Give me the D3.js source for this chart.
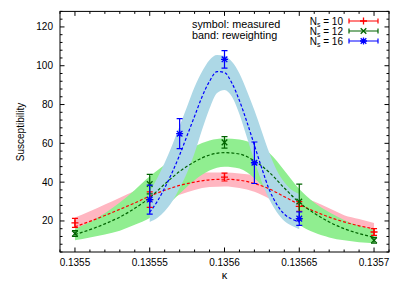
<!DOCTYPE html>
<html><head><meta charset="utf-8">
<script src="https://cdn.jsdelivr.net/npm/d3@7"></script>
<style>body{margin:0;background:#fff}svg{display:block}text{font-family:"Liberation Sans",Arial,sans-serif}</style>
</head><body>
<script>
// ---- data ----
const kappaGrid = [0.1355,0.13551,0.13552,0.13553,0.13554,0.13555,0.13556,0.13557,0.13558,0.13559,0.1356,0.13561,0.13562,0.13563,0.13564,0.13565,0.13566,0.13567,0.13568,0.13569,0.1357];
const redCurve = [17,19.8,22.8,26,29.3,32.8,35.8,38.3,40,41.2,41.5,41,39.3,36.5,32.5,28.5,25,22,19.5,17.5,16];
const redLo    = [12.5,15,17.5,20.5,23.5,27,30.5,33.5,36,37.5,37.8,37,35,31.5,27.5,24,21,18.5,16.5,15,14];
const redHi    = [21.8,25,28.5,32,35.5,38.5,41,43,44.3,45,45,44.5,43.5,41.5,38,33,30,26.5,23,21,19];
const greenCurve = [13,15.5,18.5,22,26.5,32,39,45.5,50.5,54,55.2,54.5,51,45,37,29.5,24,19.5,16,13.5,11.5];
const greenLo    = [10,11.5,13,15,18,21.5,27,34,41,46,48,47,42,34,25.5,18,14,11.5,10,9,8.5];
const greenHi    = [16,19.5,24,29.5,36,43,49,54.5,58.5,61.5,62.5,62,59.5,55,46,36.5,29.5,24.5,20.5,17.5,15.5];
const kappaBlue = [0.13555,0.135555,0.13556,0.135565,0.13557,0.135575,0.13558,0.135585,0.13559,0.135595,0.1356,0.135605,0.13561,0.135615,0.13562,0.135625,0.13563,0.135635,0.13564,0.135645,0.13565];
const blueCurve = [24.5,30,37,45,54,64,74,84,92,97,96.5,91,82,71,59,47,36,28.5,23.5,21,19.5];
const blueLo    = [19.5,21.5,25,30,37,45,55,67,78,86,87.5,84,75,63,51,40,31,24.5,20,17.5,15.7];
const blueHi    = [35,42,50,59,69,79,89,97,103,105.5,105,102,96,87,77,66,55,46,40,36,34];

const kappaMeas  = [0.1355,0.13555,0.1356,0.13565,0.1357];
const redMeas    = [19,31,42.6,27.5,14.3];
const redErr     = [2.3,4,2,2.5,1.7];
const greenMeas  = [13.5,39,60.5,30,10];
const greenErr   = [1.5,5,3,9,1.5];
const kappaMeasBlue = [0.13555,0.13557,0.1356,0.13562,0.13565];
const blueMeas   = [31,65,103.3,50,21.2];
const blueErr    = [7.5,7.7,4.5,10.7,3.5];

const xTicks = [0.1355,0.13555,0.1356,0.13565,0.1357];
const xTickLabels = ["0.1355","0.13555","0.1356","0.13565","0.1357"];
const yTicks = [20,40,60,80,100,120];
const legendLabels = ["10","12","16"];
const annotation = ["symbol: measured","band: reweighting"];

// ---- layout ----
const W=404,H=284;
const L=60,R=389,T=11.4,B=252;
const x=d3.scaleLinear().domain([0.13549,0.13571]).range([L,R]);
const y=d3.scaleLinear().domain([4,128]).range([B,T]);

const svg=d3.select("body").append("svg").attr("width",W).attr("height",H);
svg.append("rect").attr("width",W).attr("height",H).attr("fill","#fff");
svg.append("clipPath").attr("id","clip").append("rect").attr("x",L).attr("y",T).attr("width",R-L).attr("height",B-T);
const g=svg.append("g").attr("clip-path","url(#clip)");

const series=[
 {k:kappaGrid,c:redCurve,lo:redLo,hi:redHi,band:"#ffb6c1",col:"#ff0000",mk:kappaMeas,m:redMeas,e:redErr,sym:"plus",lab:legendLabels[0]},
 {k:kappaGrid,c:greenCurve,lo:greenLo,hi:greenHi,band:"#90ee90",col:"#006400",mk:kappaMeas,m:greenMeas,e:greenErr,sym:"cross",lab:legendLabels[1]},
 {k:kappaBlue,c:blueCurve,lo:blueLo,hi:blueHi,band:"#add8e6",col:"#0000ff",mk:kappaMeasBlue,m:blueMeas,e:blueErr,sym:"star",lab:legendLabels[2]}
];

const area=d3.area().x(d=>x(d.k)).y0(d=>y(d.lo)).y1(d=>y(d.hi)).curve(d3.curveMonotoneX);
const line=d3.line().x(d=>x(d.k)).y(d=>y(d.v)).curve(d3.curveMonotoneX);
series.forEach(s=>{
  const pts=s.k.map((k,i)=>({k,lo:s.lo[i],hi:s.hi[i],v:s.c[i]}));
  g.append("path").datum(pts).attr("d",area).attr("fill",s.band);
});
series.forEach(s=>{
  const pts=s.k.map((k,i)=>({k,v:s.c[i]}));
  g.append("path").datum(pts).attr("d",line).attr("fill","none").attr("stroke",s.col).attr("stroke-width",1.2).attr("stroke-dasharray","3,2");
});

function marker(sel,sym,cx,cy,col,r){
  const p=d3.path();
  if(sym==="plus"||sym==="star"){p.moveTo(cx-r,cy);p.lineTo(cx+r,cy);p.moveTo(cx,cy-r);p.lineTo(cx,cy+r);}
  if(sym==="cross"||sym==="star"){const q=r*0.8;p.moveTo(cx-q,cy-q);p.lineTo(cx+q,cy+q);p.moveTo(cx-q,cy+q);p.lineTo(cx+q,cy-q);}
  sel.append("path").attr("d",p.toString()).attr("stroke",col).attr("stroke-width",1.3).attr("fill","none");
}
const cap=3;
series.forEach(s=>{
  s.mk.forEach((k,i)=>{
    const cx=x(k),y0=y(s.m[i]-s.e[i]),y1=y(s.m[i]+s.e[i]);
    const p=d3.path();
    p.moveTo(cx,y0);p.lineTo(cx,y1);
    p.moveTo(cx-cap,y0);p.lineTo(cx+cap,y0);
    p.moveTo(cx-cap,y1);p.lineTo(cx+cap,y1);
    svg.append("path").attr("d",p.toString()).attr("stroke",s.col).attr("stroke-width",1.2).attr("fill","none");
    marker(svg,s.sym,cx,y(s.m[i]),s.col,3.5);
  });
});

// ---- frame and ticks ----
const ax=svg.append("g").attr("stroke","#000").attr("stroke-width",1).attr("fill","none");
ax.append("rect").attr("x",L).attr("y",T).attr("width",R-L).attr("height",B-T);
const xMinor=d3.range(0,23).map(i=>0.13549+i*0.00001);
xMinor.forEach(v=>{
  const major=xTicks.some(t=>Math.abs(t-v)<1e-9);
  const len=major?4.5:2.5;
  ax.append("line").attr("x1",x(v)).attr("x2",x(v)).attr("y1",B).attr("y2",B-len);
  ax.append("line").attr("x1",x(v)).attr("x2",x(v)).attr("y1",T).attr("y2",T+len);
});
const yMinor=d3.range(4,129,4);
yMinor.forEach(v=>{
  const major=yTicks.includes(v);
  const len=major?4.5:2.5;
  ax.append("line").attr("x1",L).attr("x2",L+len).attr("y1",y(v)).attr("y2",y(v));
  ax.append("line").attr("x1",R).attr("x2",R-len).attr("y1",y(v)).attr("y2",y(v));
});
const tx=svg.append("g").attr("font-size",10).attr("fill","#000");
xTicks.forEach((v,i)=>tx.append("text").attr("x",x(v)).attr("y",266).attr("text-anchor","middle").text(xTickLabels[i]));
yTicks.forEach(v=>tx.append("text").attr("x",53).attr("y",y(v)+3.5).attr("text-anchor","end").text(v));
tx.append("text").attr("transform","translate(24,132) rotate(-90)").attr("text-anchor","middle").text("Susceptibility");
tx.append("text").attr("x",x(0.1356)).attr("y",279).attr("text-anchor","middle").attr("font-size",11).text("κ");
annotation.forEach((t,i)=>tx.append("text").attr("x",192).attr("y",28+i*11).attr("font-size",10.8).text(t));

// ---- legend ----
series.forEach((s,i)=>{
  const ly=21+i*10;
  const t=tx.append("text").attr("x",343).attr("y",ly+3.5).attr("text-anchor","end");
  t.append("tspan").text("N");
  t.append("tspan").attr("font-size",7).attr("dy",2.5).text("s");
  t.append("tspan").attr("dy",-2.5).text(" = "+s.lab);
  const p=d3.path();
  p.moveTo(349,ly);p.lineTo(378,ly);
  p.moveTo(349,ly-2.5);p.lineTo(349,ly+2.5);
  p.moveTo(378,ly-2.5);p.lineTo(378,ly+2.5);
  svg.append("path").attr("d",p.toString()).attr("stroke",s.col).attr("stroke-width",1.2).attr("fill","none");
  marker(svg,s.sym,363.5,ly,s.col,3.5);
});
</script>
</body></html>
